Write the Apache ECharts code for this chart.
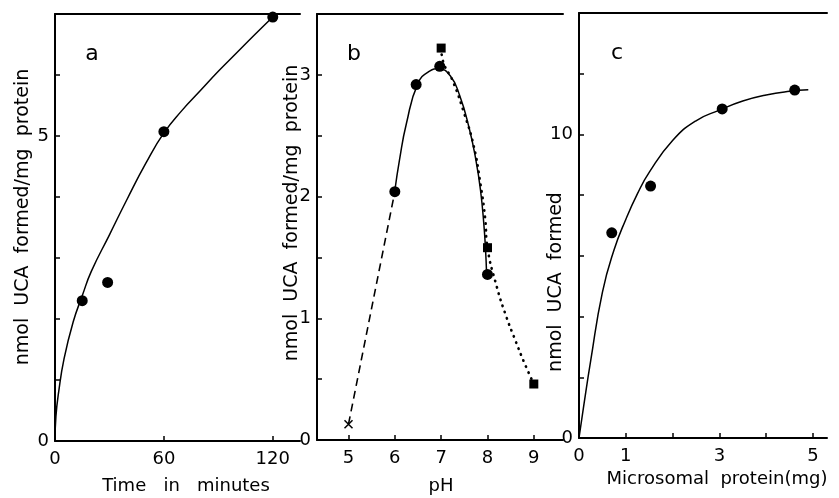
<!DOCTYPE html>
<html>
<head>
<meta charset="utf-8">
<script src="https://cdn.jsdelivr.net/npm/echarts@6/dist/echarts.min.js"></script>
<style>
html,body{margin:0;padding:0;background:#fff;}
#chart{width:839px;height:498px;}
</style>
</head>
<body>
<div id="chart"></div>
<script>
// panel a: time course
var timePoints = [[15, 2.3], [29, 2.6], [60, 5.07], [120, 6.95]];
var timeCurve = [[0, 0], [0.5, 0.4], [2, 0.8], [5, 1.35], [10, 1.95], [15, 2.38], [20, 2.78], [30, 3.38],
	[40, 3.98], [50, 4.55], [60, 5.05], [70, 5.42], [80, 5.74], [90, 6.06], [100, 6.36], [110, 6.66], [121, 6.98]];
var timeTicks = [0, 60, 120];
var timeYTicks = [0, 1, 2, 3, 4, 5, 6, 7];
var timeYLabels = [0, 5];

// panel b: pH
var phCircles = [[6, 2.04], [6.46, 2.92], [6.97, 3.07], [8, 1.36]];
var phSquares = [[7, 3.22], [8, 1.58], [9, 0.46]];
var phCross = [[5, 0.13]];
var phDashed = [[5, 0.13], [6, 2.04]];
var phSolid = [[6, 2.05], [6.1, 2.3], [6.25, 2.6], [6.5, 2.93], [6.75, 3.03], [6.95, 3.05], [7.2, 2.99],
	[7.4, 2.83], [7.6, 2.57], [7.75, 2.3], [7.85, 2.05], [7.92, 1.78], [7.96, 1.55], [7.98, 1.37]];
var phDotted = [[7, 3.22], [7.05, 3.1], [7.25, 2.95], [7.5, 2.68], [7.7, 2.42], [7.85, 2.1], [7.95, 1.82],
	[8, 1.58], [8.2, 1.26], [8.4, 1.02], [8.6, 0.82], [8.8, 0.63], [9, 0.46]];
var phTicks = [5, 6, 7, 8, 9];
var phYTicks = [0, 0.5, 1, 1.5, 2, 2.5, 3, 3.5];
var phYLabels = [0, 1, 2, 3];

// panel c: protein amount
var proteinPoints = [[0.7, 6.76], [1.53, 8.3], [3.06, 10.84], [4.61, 11.46]];
var proteinCurve = [[0, 0], [0.1, 1.05], [0.25, 2.55], [0.5, 4.8], [0.75, 6.2], [1, 7.2], [1.25, 8.05],
	[1.5, 8.75], [2, 9.8], [2.5, 10.45], [3, 10.8], [3.5, 11.1], [4, 11.3], [4.5, 11.42], [4.9, 11.47]];
var proteinTicks = [0, 1, 2, 3, 4, 5];
var proteinLabels = [0, 1, 3, 5];
var proteinYTicks = [0, 2, 4, 6, 8, 10, 12, 14];
var proteinYLabels = [0, 10];

var FONT = 'DejaVu Sans';
var BLACK = '#000';

function xAx(grid, min, max, ticks, labels) {
	return {
		type: 'value', gridIndex: grid, min: min, max: max,
		axisLine: {onZero: false, lineStyle: {color: BLACK, width: 2}},
		axisTick: {inside: true, length: 5, customValues: ticks, lineStyle: {color: BLACK, width: 1.5}},
		axisLabel: {customValues: labels, margin: 9, color: BLACK, fontSize: 18, fontFamily: FONT},
		splitLine: {show: false}
	};
}
function topAx(grid, min, max) {
	return {
		type: 'value', gridIndex: grid, min: min, max: max, position: 'top',
		axisLine: {onZero: false, lineStyle: {color: BLACK, width: 2}},
		axisTick: {show: false}, axisLabel: {show: false}, splitLine: {show: false}
	};
}
function yAx(grid, min, max, ticks, labels) {
	return {
		type: 'value', gridIndex: grid, min: min, max: max,
		axisLine: {show: true, onZero: false, lineStyle: {color: BLACK, width: 2}},
		axisTick: {show: true, inside: true, length: 5, customValues: ticks, lineStyle: {color: BLACK, width: 1.5}},
		axisLabel: {customValues: labels, margin: 6, color: BLACK, fontSize: 18, fontFamily: FONT},
		splitLine: {show: false}
	};
}
function curve(i, data, lstyle) {
	return {type: 'line', xAxisIndex: i, yAxisIndex: i, data: data, smooth: 0.5,
		showSymbol: false, silent: true, lineStyle: lstyle};
}
function dots(i, data, symbol, size) {
	return {type: 'scatter', xAxisIndex: i, yAxisIndex: i, data: data, symbol: symbol, symbolSize: size,
		itemStyle: {color: BLACK, opacity: 1}};
}
function vtext(x, y, s) {
	return {type: 'text', x: x, y: y, rotation: Math.PI / 2,
		style: {text: s, font: '19px ' + FONT, fill: BLACK, align: 'center', verticalAlign: 'middle'}};
}
function htext(x, y, s, size) {
	return {type: 'text', x: x, y: y,
		style: {text: s, font: (size || 18) + 'px ' + FONT, fill: BLACK, align: 'center', verticalAlign: 'middle'}};
}

var chart = echarts.init(document.getElementById('chart'));
var option = {
	backgroundColor: '#fff',
	animation: false,
	grid: [
		{left: 55, top: 14, width: 245, height: 427},
		{left: 317, top: 14, width: 246, height: 426},
		{left: 579, top: 13, width: 248, height: 425}
	],
	xAxis: [
		xAx(0, 0, 135, timeTicks, timeTicks),
		xAx(1, 4.32, 9.63, phTicks, phTicks),
		xAx(2, 0, 5.3, proteinTicks, proteinLabels),
		topAx(0, 0, 135), topAx(1, 4.32, 9.63), topAx(2, 0, 5.3)
	],
	yAxis: [
		yAx(0, 0, 7, timeYTicks, timeYLabels),
		yAx(1, 0, 3.5, phYTicks, phYLabels),
		yAx(2, 0, 14, proteinYTicks, proteinYLabels)
	],
	graphic: [
		vtext(23, 217, 'nmol  UCA  formed/mg  protein'),
		vtext(292, 213, 'nmol  UCA  formed/mg  protein'),
		vtext(556, 282, 'nmol  UCA  formed'),
		htext(186, 486, 'Time   in   minutes'),
		htext(441, 486, 'pH'),
		htext(717, 479, 'Microsomal  protein(mg)'),
		htext(92, 54, 'a', 22),
		htext(354, 54, 'b', 22),
		htext(617, 53, 'c', 22)
	],
	series: [
		curve(0, timeCurve, {color: BLACK, width: 1.5}),
		dots(0, timePoints, 'circle', 11),

		{type: 'line', xAxisIndex: 1, yAxisIndex: 1, data: phDashed, showSymbol: false, silent: true,
			lineStyle: {color: BLACK, width: 1.6, type: [8, 5]}},
		curve(1, phSolid, {color: BLACK, width: 1.5}),
		curve(1, phDotted, {color: BLACK, width: 2.6, type: [0.5, 6], cap: 'round'}),
		dots(1, phCircles, 'circle', 11),
		dots(1, phSquares, 'rect', 9),
		{type: 'scatter', xAxisIndex: 1, yAxisIndex: 1, data: phCross, symbol: 'path://M0,0L10,10M10,0L0,10',
			symbolSize: 8, itemStyle: {color: 'none', borderColor: BLACK, borderWidth: 1.5, opacity: 1}},

		curve(2, proteinCurve, {color: BLACK, width: 1.5}),
		dots(2, proteinPoints, 'circle', 11)
	]
};
chart.setOption(option);
</script>
</body>
</html>
